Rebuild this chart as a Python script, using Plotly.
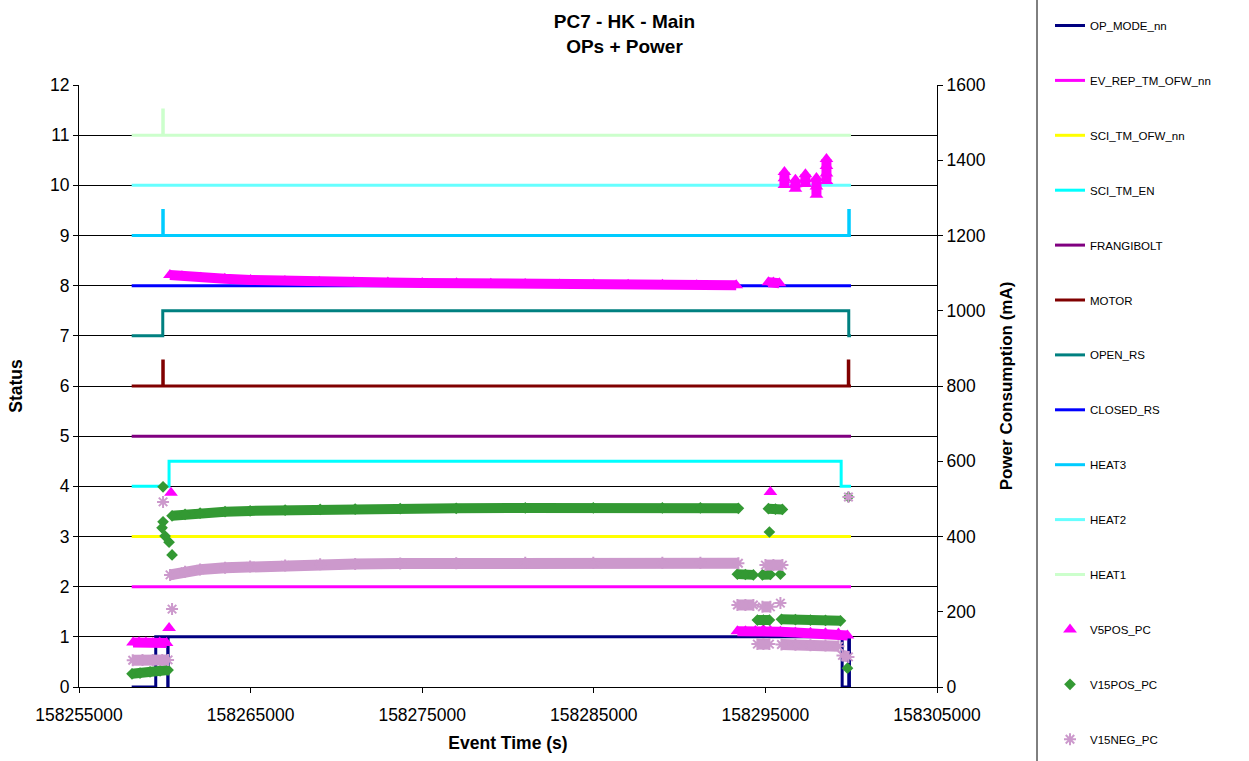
import plotly.graph_objects as go

# ---------------- status channels (left axis) ----------------
# change points of each status line, drawn as steps (hv)
t_start = 158258070
t_stop = 158299990

op_mode_t = [t_start, 158259472, 158260172, 158260192, 158299473, 158299858, 158299898, t_stop]
op_mode_v = [0, 1, 0, 1, 0, 1, 0, 0]

ev_rep_t = [t_start, t_stop]
ev_rep_v = [2, 2]

sci_ofw_t = [t_start, t_stop]
sci_ofw_v = [3, 3]

sci_en_t = [t_start, 158260248, 158299415, t_stop]
sci_en_v = [4, 4.5, 4, 4]

frangibolt_t = [t_start, t_stop]
frangibolt_v = [5, 5]

motor_t = [t_start, 158259881, 158259911, 158299830, 158299860, t_stop]
motor_v = [6, 6.5, 6, 6.5, 6, 6]

open_rs_t = [t_start, 158259881, 158299858, t_stop]
open_rs_v = [7, 7.5, 7, 7]

closed_rs_t = [t_start, t_stop]
closed_rs_v = [8, 8]

heat3_t = [t_start, 158259881, 158259911, 158299858, 158299888, t_stop]
heat3_v = [9, 9.5, 9, 9.5, 9, 9]

heat2_t = [t_start, t_stop]
heat2_v = [10, 10]

heat1_t = [t_start, 158259881, 158259911, t_stop]
heat1_v = [11, 11.5, 11, 11]

# ---------------- power channels (right axis, mA) ----------------
# None separates runs of consecutive samples
v5pos_t = [
    158258150, 158258500, 158258900, 158259300, 158259700, 158260100, None,
    158260250, None,
    158260360, None,
    158260300, 158261000, 158262100, 158263500, 158265000, 158267000, 158269000,
    158271000, 158273000, 158275000, 158277000, 158279000, 158281000, 158283000,
    158285000, 158287000, 158289000, 158291000, 158293300, None,
    158295176, 158295467, 158295817, None,
    158295292, None,
    158293367, 158293834, 158294417, 158294883, 158295292, 158295875, 158296750,
    158297625, 158298500, 158299258, 158299783, None,
    158296109, 158296109, 158296109, None,
    158296750, 158296750, 158296750, None,
    158297333, 158297333, 158297333, None,
    158297975, 158297975, 158297975, None,
    158298558, 158298558, 158298558, 158298558,
]
v5pos_ma = [
    118, 119, 118, 117, 118, 117, None,
    157, None,
    516, None,
    1095, 1092, 1088, 1085, 1082, 1079, 1077,
    1076, 1075, 1074, 1073, 1072, 1071, 1070,
    1070, 1069, 1069, 1068, 1068, None,
    1076, 1075, 1073, None,
    518, None,
    148, 148, 149, 152, 149, 147, 145,
    144, 143, 142, 137, None,
    1369, 1352, 1334, None,
    1348, 1336, 1324, None,
    1363, 1350, 1337, None,
    1353, 1330, 1308, None,
    1403, 1385, 1365, 1345,
]

v15pos_t = [
    158258090, 158258557, 158259140, 158259723, 158260190, None,
    158259898, None,
    158259898, None,
    158259840, None,
    158260015, None,
    158260248, None,
    158260423, None,
    158260423, 158261181, 158262056, 158263513, 158264971, 158267012, 158269053,
    158271094, 158273718, 158276983, 158281006, 158284971, 158288995, 158291211,
    158293427, None,
    158295176, 158295584, 158295992, None,
    158295234, None,
    158293367, 158293834, 158294300, None,
    158294825, 158295292, None,
    158295875, None,
    158294532, 158294883, 158295234, None,
    158295934, 158296750, 158297625, 158298500, 158299375, None,
    158299783, None,
    158299840,
]
v15pos_ma = [
    35, 37, 40, 43, 45, None,
    532, None,
    439, None,
    423, None,
    401, None,
    385, None,
    351, None,
    455, 459, 462, 466, 468, 470, 472,
    473, 474, 475, 476, 476, 476, 476,
    475, None,
    474, 473, 472, None,
    412, None,
    300, 299, 298, None,
    298, 299, None,
    300, None,
    178, 178, 178, None,
    180, 179, 178, 177, 176, None,
    50, None,
    505,
]

v15neg_t = [
    158258130, 158258700, 158259300, 158259850, 158260190, None,
    158259898, None,
    158260423, None,
    158260306, 158261181, 158262056, 158263513, 158264971, 158267012, 158269053,
    158271094, 158273718, 158276983, 158281006, 158284971, 158288995, 158291211,
    158293427, None,
    158295000, 158295467, 158295992, None,
    158293367, 158293834, 158294300, None,
    158294825, 158295292, None,
    158295875, None,
    158294532, 158294883, 158295234, None,
    158295934, 158296750, 158297625, 158298500, 158299258, None,
    158299490, 158299840, None,
    158299840,
]
v15neg_ma = [
    71, 72, 72, 72, 72, None,
    492, None,
    207, None,
    298, 306, 312, 317, 320, 323, 326,
    327, 328, 329, 330, 330, 330, 330,
    329, None,
    324, 324, 324, None,
    218, 218, 218, None,
    213, 213, None,
    223, None,
    114, 114, 114, None,
    113, 112, 111, 110, 108, None,
    84, 80, None,
    505,
]

status_series = [
    ("OP_MODE_nn", op_mode_t, op_mode_v, "#000080"),
    ("EV_REP_TM_OFW_nn", ev_rep_t, ev_rep_v, "#FF00FF"),
    ("SCI_TM_OFW_nn", sci_ofw_t, sci_ofw_v, "#FFFF00"),
    ("SCI_TM_EN", sci_en_t, sci_en_v, "#00FFFF"),
    ("FRANGIBOLT", frangibolt_t, frangibolt_v, "#800080"),
    ("MOTOR", motor_t, motor_v, "#800000"),
    ("OPEN_RS", open_rs_t, open_rs_v, "#008080"),
    ("CLOSED_RS", closed_rs_t, closed_rs_v, "#0000FF"),
    ("HEAT3", heat3_t, heat3_v, "#00CCFF"),
    ("HEAT2", heat2_t, heat2_v, "#66FFFF"),
    ("HEAT1", heat1_t, heat1_v, "#CCFFCC"),
]

power_series = [
    ("V5POS_PC", v5pos_t, v5pos_ma, "#FF00FF", "triangle-up", 12, 10),
    ("V15POS_PC", v15pos_t, v15pos_ma, "#339933", "diamond", 9, 10),
    ("V15NEG_PC", v15neg_t, v15neg_ma, "#CC99CC", "asterisk-open", 10, 11),
]

FONT = "Arial, 'Liberation Sans', sans-serif"

fig = go.Figure()

for name, t, v, color in status_series:
    fig.add_trace(go.Scatter(
        x=t, y=v, name=name, mode="lines", legendgroup=name,
        line=dict(color=color, width=3, shape="hv"),
        yaxis="y",
    ))

for name, t, v, color, symbol, size, band in power_series:
    # dense runs of samples merge into a solid band
    fig.add_trace(go.Scatter(
        x=t, y=v, mode="lines", legendgroup=name, showlegend=False,
        line=dict(color=color, width=band), connectgaps=False,
        yaxis="y2", hoverinfo="skip",
    ))
    marker = dict(symbol=symbol, size=size, color=color)
    if symbol.endswith("-open"):
        marker["line"] = dict(color=color, width=2)
    fig.add_trace(go.Scatter(
        x=t, y=v, name=name, mode="markers", legendgroup=name,
        marker=marker, yaxis="y2",
    ))

# plot-area geometry in pixels
W, H = 1249, 761
L, R, T, B = 79, W - 937, 85, H - 687
pw = W - L - R
ph = H - T - B

def px_x(p):
    return (p - L) / pw

def px_y(p):
    return (H - B - p) / ph

fig.update_layout(
    width=W, height=H,
    margin=dict(l=L, r=R, t=T, b=B, autoexpand=False),
    paper_bgcolor="white", plot_bgcolor="white",
    font=dict(family=FONT, color="black"),
    title=dict(
        text="<b>PC7 - HK - Main<br>OPs + Power</b>",
        x=0.5, xref="container", xanchor="center",
        y=1 - 28 / H, yref="container", yanchor="top",
        font=dict(size=19, family=FONT, color="black"),
    ),
    xaxis=dict(
        range=[158255000, 158305000], dtick=10000, tick0=158255000,
        tickformat="d", showgrid=False, zeroline=False,
        showline=True, linecolor="black", linewidth=1,
        ticks="outside", ticklen=5, tickcolor="black",
        tickfont=dict(size=17.5), ticklabelstandoff=7,
        title=dict(text="<b>Event Time (s)</b>", font=dict(size=17.5), standoff=12),
    ),
    yaxis=dict(
        range=[0, 12], dtick=1, showgrid=True, gridcolor="#000000", gridwidth=1,
        zeroline=False, showline=True, linecolor="black", linewidth=1,
        ticks="outside", ticklen=5, tickcolor="black",
        tickfont=dict(size=17.5),
        title=dict(text="<b>Status</b>", font=dict(size=17.5), standoff=22),
    ),
    yaxis2=dict(
        range=[0, 1600], dtick=200, overlaying="y", side="right",
        showgrid=False, zeroline=False, showline=True, linecolor="black", linewidth=1,
        ticks="outside", ticklen=5, tickcolor="black",
        tickfont=dict(size=17.5),
        title=dict(text="<b>Power Consumption (mA)</b>", font=dict(size=17), standoff=15),
    ),
    legend=dict(
        xref="container", yref="container",
        x=1050 / W, xanchor="left", y=1 - 11 / H, yanchor="top",
        font=dict(size=11.5, family=FONT),
        tracegroupgap=35.9, bgcolor="rgba(0,0,0,0)",
        traceorder="grouped", maxheight=H,
    ),
    shapes=[dict(
        type="line", xref="paper", yref="paper",
        x0=px_x(1037), x1=px_x(1037), y0=px_y(-5), y1=px_y(766),
        line=dict(color="black", width=1),
    )],
    showlegend=True,
)

fig.write_html("out.html")
